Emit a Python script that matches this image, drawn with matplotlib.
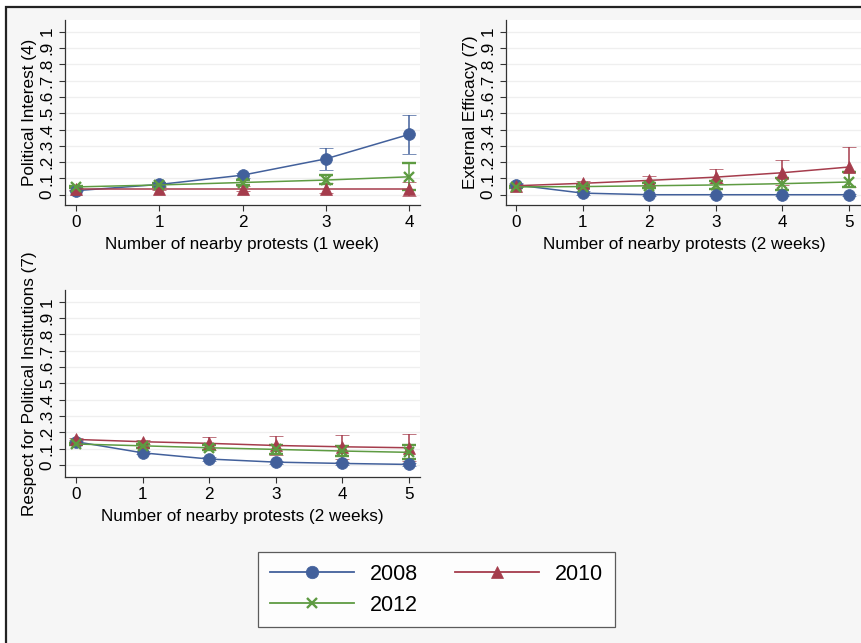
import matplotlib
matplotlib.use("Agg")
import matplotlib.pyplot as plt
from matplotlib.patches import Rectangle
from matplotlib.lines import Line2D
import numpy as np

plt.rcParams['font.family'] = ['Liberation Sans', 'DejaVu Sans']

years = ["2008", "2010", "2012"]
colors = ["#42609b", "#a53c4c", "#5e9b42"]
markers = ["o", "^", "x"]

yticks = [0, .1, .2, .3, .4, .5, .6, .7, .8, .9, 1]
ytick_labels = ["0", ".1", ".2", ".3", ".4", ".5", ".6", ".7", ".8", ".9", "1"]

# Panel 1: Political Interest (4), 1 week
p1_x = [0, 1, 2, 3, 4]
p1_2008 = [0.025, 0.063, 0.12, 0.22, 0.37]
p1_2008_lo = [0.02, 0.055, 0.105, 0.15, 0.25]
p1_2008_hi = [0.03, 0.07, 0.135, 0.286, 0.49]
p1_2010 = [0.037, 0.037, 0.037, 0.037, 0.037]
p1_2010_lo = [0.03, 0.028, 0.02, 0.01, -0.005]
p1_2010_hi = [0.044, 0.046, 0.055, 0.074, 0.078]
p1_2012 = [0.048, 0.06, 0.075, 0.09, 0.11]
p1_2012_lo = [0.04, 0.05, 0.06, 0.065, 0.03]
p1_2012_hi = [0.056, 0.07, 0.09, 0.12, 0.196]

# Panel 2: External Efficacy (7), 2 weeks
p2_x = [0, 1, 2, 3, 4, 5]
p2_2008 = [0.06, 0.01, 0.0, 0.0, 0.0, 0.0]
p2_2008_lo = [0.05, 0.0, -0.005, -0.005, -0.005, -0.005]
p2_2008_hi = [0.07, 0.02, 0.005, 0.005, 0.005, 0.005]
p2_2010 = [0.055, 0.07, 0.088, 0.108, 0.135, 0.17]
p2_2010_lo = [0.045, 0.055, 0.06, 0.07, 0.06, 0.05]
p2_2010_hi = [0.065, 0.085, 0.115, 0.158, 0.213, 0.29]
p2_2012 = [0.048, 0.05, 0.055, 0.06, 0.068, 0.078]
p2_2012_lo = [0.04, 0.04, 0.04, 0.035, 0.03, 0.045]
p2_2012_hi = [0.056, 0.06, 0.07, 0.085, 0.10, 0.141]

# Panel 3: Respect for Political Institutions (7), 2 weeks
p3_x = [0, 1, 2, 3, 4, 5]
p3_2008 = [0.143, 0.075, 0.037, 0.018, 0.01, 0.004]
p3_2008_lo = [0.135, 0.065, 0.027, 0.008, 0.0, -0.006]
p3_2008_hi = [0.151, 0.085, 0.047, 0.028, 0.02, 0.014]
p3_2010 = [0.157, 0.143, 0.133, 0.12, 0.112, 0.106]
p3_2010_lo = [0.149, 0.13, 0.095, 0.06, 0.04, 0.025]
p3_2010_hi = [0.165, 0.155, 0.173, 0.18, 0.186, 0.19]
p3_2012 = [0.129, 0.118, 0.106, 0.096, 0.086, 0.078]
p3_2012_lo = [0.12, 0.105, 0.09, 0.07, 0.055, 0.035]
p3_2012_hi = [0.138, 0.131, 0.122, 0.12, 0.117, 0.12]

panels = [
    dict(x=p1_x, ylabel="Political Interest (4)", xlabel="Number of nearby protests (1 week)",
         series=[(p1_2008, p1_2008_lo, p1_2008_hi), (p1_2010, p1_2010_lo, p1_2010_hi),
                 (p1_2012, p1_2012_lo, p1_2012_hi)],
         rect_px=(65, 20, 420, 205), xlim=(-0.132, 4.132), ylim=(-0.063, 1.072)),
    dict(x=p2_x, ylabel="External Efficacy (7)", xlabel="Number of nearby protests (2 weeks)",
         series=[(p2_2008, p2_2008_lo, p2_2008_hi), (p2_2010, p2_2010_lo, p2_2010_hi),
                 (p2_2012, p2_2012_lo, p2_2012_hi)],
         rect_px=(506, 20, 862, 205), xlim=(-0.15, 5.195), ylim=(-0.063, 1.072)),
    dict(x=p3_x, ylabel="Respect for Political Institutions (7)", xlabel="Number of nearby protests (2 weeks)",
         series=[(p3_2008, p3_2008_lo, p3_2008_hi), (p3_2010, p3_2010_lo, p3_2010_hi),
                 (p3_2012, p3_2012_lo, p3_2012_hi)],
         rect_px=(65, 290, 420, 477), xlim=(-0.165, 5.165), ylim=(-0.073, 1.072)),
]

W, H = 862, 643
fig = plt.figure(figsize=(W / 100, H / 100), dpi=100, facecolor="white")

# outer gray frame with dark border on top/left
fig.patches.append(Rectangle((6 / W, -0.05), 1.1, (H - 7) / H + 0.05, transform=fig.transFigure,
                             facecolor="#f6f6f6", edgecolor="#222222", linewidth=1.6, zorder=-10))

tick_fs = 12.3
for p in panels:
    l, t, r, b = p["rect_px"]
    ax = fig.add_axes([l / W, (H - b) / H, (r - l) / W, (b - t) / H])
    ax.set_zorder(1)
    ax.set_facecolor("white")
    for s in ["top", "right"]:
        ax.spines[s].set_visible(False)
    for s in ["left", "bottom"]:
        ax.spines[s].set_color("#333333")
        ax.spines[s].set_linewidth(0.9)
    ax.set_xlim(*p["xlim"])
    ax.set_ylim(*p["ylim"])
    ax.set_yticks(yticks)
    ax.set_yticklabels(ytick_labels, rotation=90, va="center", fontsize=tick_fs)
    ax.set_xticks(p["x"])
    ax.set_xticklabels([str(v) for v in p["x"]], fontsize=tick_fs)
    ax.tick_params(direction="out", length=4.5, width=0.8, color="#333333", pad=3)
    ax.grid(axis="y", color="#efefef", linewidth=0.9)
    ax.set_axisbelow(True)
    ax.set_ylabel(p["ylabel"], fontsize=tick_fs, labelpad=2)
    ax.set_xlabel(p["xlabel"], fontsize=tick_fs, labelpad=5)
    for (vals, lo, hi), c, m in zip(p["series"], colors, markers):
        vals = np.array(vals); lo = np.array(lo); hi = np.array(hi)
        ax.errorbar(p["x"], vals, yerr=[vals - lo, hi - vals], color=c, marker=m,
                    markersize=8.5 if m != "x" else 7.5, markeredgewidth=1.7 if m == "x" else 0.5,
                    linewidth=1.1, elinewidth=1.1, capsize=5, capthick=1.1, clip_on=False)

handles = [Line2D([], [], color=c, marker=m, markersize=9 if m != "x" else 7.5,
                  markeredgewidth=1.7 if m == "x" else 0.5, linewidth=1.3)
           for c, m in zip(colors, markers)]
order = [0, 2, 1]  # column-wise fill: 2008, 2012 | 2010
leg = fig.legend([handles[i] for i in order], [years[i] for i in order], ncol=2, loc="upper left",
                 bbox_to_anchor=(258 / W, (H - 552) / H), fontsize=15.5,
                 frameon=True, fancybox=False, edgecolor="#333333", facecolor="white",
                 handlelength=3.9, handletextpad=0.75, columnspacing=1.7,
                 borderpad=0.55, labelspacing=0.45, borderaxespad=0)
leg.get_frame().set_linewidth(0.9)
leg.set_zorder(2)

fig.savefig("out.png", dpi=100, facecolor=fig.get_facecolor())
